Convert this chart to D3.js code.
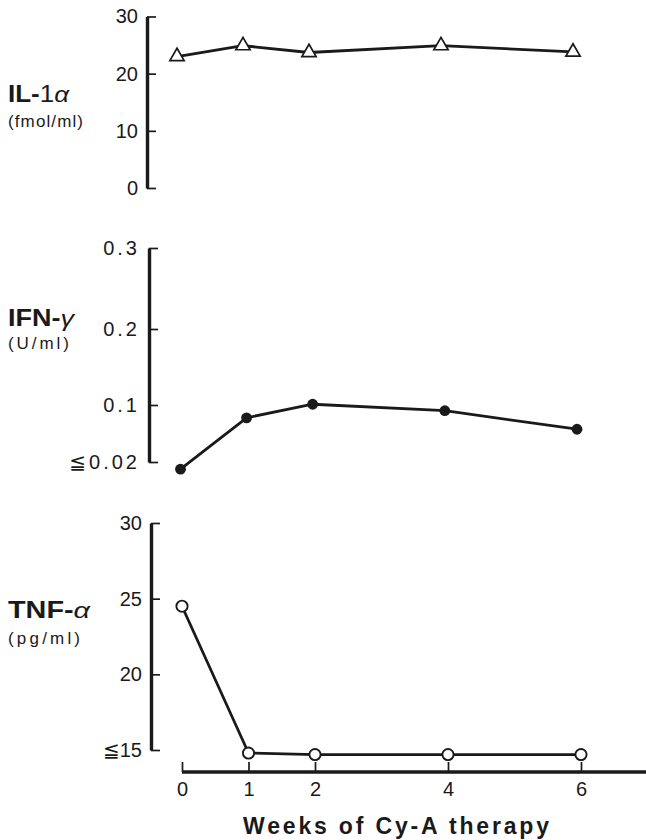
<!DOCTYPE html>
<html>
<head>
<meta charset="utf-8">
<script src="https://cdn.jsdelivr.net/npm/d3@7"></script>
<style>
  html, body { margin: 0; padding: 0; background: #fff; }
  svg { display: block; }
  text { fill: #1a1a1a; }
</style>
</head>
<body>
<svg id="chart" width="646" height="840"></svg>
<script>
// ---- data ----
const weeks = [0, 1, 2, 4, 6];
const xTickLabels = ["0", "1", "2", "4", "6"];

const il1aValues = [23.0, 24.9, 23.7, 24.9, 23.8];      // fmol/ml
const ifngValues = [0.010, 0.082, 0.101, 0.092, 0.066];  // U/ml
const tnfaValues = [24.5, 14.8, 14.7, 14.7, 14.7];       // pg/ml

const il1aTicks = [0, 10, 20, 30];
const il1aTickLabels = ["0", "10", "20", "30"];
const ifngTicks = [0.02, 0.1, 0.2, 0.3];
const ifngTickLabels = ["≦0.02", "0.1", "0.2", "0.3"];
const tnfaTicks = [15, 20, 25, 30];
const tnfaTickLabels = ["≦15", "20", "25", "30"];

const xTitle = "Weeks of Cy-A therapy";

// ---- drawing ----
const svg = d3.select("#chart");
const W = 646;
const ink = "#1a1a1a";
const font = "'Liberation Sans', Arial, 'DejaVu Sans', sans-serif";

const panels = [
  {
    values: il1aValues, ticks: il1aTicks, labels: il1aTickLabels,
    yDomain: [0, 30], yRange: [188, 16.5], axisX: 147,
    xRange: [177, 573], marker: "triangle", spacing: 0,
    name: [["IL-", "bold", "normal"], ["1", "normal", "normal"], ["α", "normal", "italic"]],
    unit: "(fmol/ml)", nameY: 102, unitY: 127, nameLen: 61, unitLen: 75
  },
  {
    values: ifngValues, ticks: ifngTicks, labels: ifngTickLabels,
    yDomain: [0.02, 0.1, 0.2, 0.3], yRange: [462, 405, 329, 248], axisX: 149,
    xRange: [180.5, 577], marker: "filled", spacing: 3,
    name: [["IFN-", "bold", "normal"], ["γ", "normal", "italic"]],
    unit: "(U/ml)", nameY: 326, unitY: 349, nameLen: 66, unitLen: 61
  },
  {
    values: tnfaValues, ticks: tnfaTicks, labels: tnfaTickLabels,
    yDomain: [15, 30], yRange: [750, 523], axisX: 151,
    xRange: [182, 581], marker: "open", spacing: 0,
    name: [["TNF-", "bold", "normal"], ["α", "normal", "italic"]],
    unit: "(pg/ml)", nameY: 618, unitY: 644, nameLen: 82, unitLen: 72
  }
];

panels.forEach((p, pi) => {
  const x = d3.scaleLinear().domain([0, 6]).range(p.xRange);
  const y = d3.scaleLinear().domain(p.yDomain).range(p.yRange);

  // y axis: ticks pointing right, labels on the left
  const axis = d3.axisLeft(y)
    .tickValues(p.ticks)
    .tickFormat((d, i) => p.labels[i])
    .tickSizeInner(-9)
    .tickSizeOuter(0)
    .tickPadding(9);

  const g = svg.append("g")
    .attr("transform", `translate(${p.axisX},0)`)
    .call(axis);
  g.select(".domain").attr("stroke", ink).attr("stroke-width", 3.4);
  g.selectAll(".tick line").attr("stroke", ink).attr("stroke-width", 1.7);
  g.selectAll(".tick text")
    .attr("fill", ink)
    .style("font-family", font)
    .style("font-size", "20px")
    .style("letter-spacing", p.spacing + "px");

  // data line
  const line = d3.line().x((d, i) => x(weeks[i])).y(d => y(d));
  svg.append("path")
    .datum(p.values)
    .attr("d", line)
    .attr("fill", "none")
    .attr("stroke", ink)
    .attr("stroke-width", 2.8)
    .attr("stroke-linejoin", "round");

  // markers
  const pts = svg.append("g").selectAll("g").data(p.values).join("g")
    .attr("transform", (d, i) => `translate(${x(weeks[i])},${y(d)})`);
  if (p.marker === "triangle") {
    pts.append("path")
      .attr("d", d3.symbol().type(d3.symbolTriangle).size(88)())
      .attr("fill", "#fff").attr("stroke", ink).attr("stroke-width", 1.7);
  } else if (p.marker === "filled") {
    pts.append("circle").attr("r", 5.4).attr("fill", ink);
  } else {
    pts.append("circle").attr("r", 5.6)
      .attr("fill", "#fff").attr("stroke", ink).attr("stroke-width", 1.9);
  }

  // left labels
  const t = svg.append("text")
    .attr("x", 8).attr("y", p.nameY)
    .attr("textLength", p.nameLen).attr("lengthAdjust", "spacingAndGlyphs")
    .style("font-family", font).style("font-size", "23px");
  p.name.forEach(([s, w, st]) => {
    t.append("tspan").text(s).attr("font-weight", w).attr("font-style", st);
  });
  svg.append("text")
    .attr("x", 8).attr("y", p.unitY)
    .attr("textLength", p.unitLen).attr("lengthAdjust", "spacing")
    .style("font-family", font).style("font-size", "17px")
    .text(p.unit);

  // x axis under the last panel
  if (pi === panels.length - 1) {
    const xAxis = d3.axisBottom(x)
      .tickValues(weeks)
      .tickFormat((d, i) => xTickLabels[i])
      .tickSizeInner(-10)
      .tickSizeOuter(0)
      .tickPadding(10);
    const gx = svg.append("g")
      .attr("transform", "translate(0,772)")
      .call(xAxis);
    gx.select(".domain").remove();
    gx.append("line")
      .attr("x1", x(0)).attr("x2", W)
      .attr("y1", 0).attr("y2", 0)
      .attr("stroke", ink).attr("stroke-width", 3.4);
    gx.selectAll(".tick line").attr("stroke", ink).attr("stroke-width", 1.7);
    gx.selectAll(".tick text")
      .attr("fill", ink)
      .style("font-family", font)
      .style("font-size", "20px");

    svg.append("text")
      .attr("x", 243).attr("y", 834)
      .attr("textLength", 306).attr("lengthAdjust", "spacing")
      .style("font-family", font).style("font-size", "23px")
      .style("font-weight", "bold")
      .text(xTitle);
  }
});
</script>
</body>
</html>
